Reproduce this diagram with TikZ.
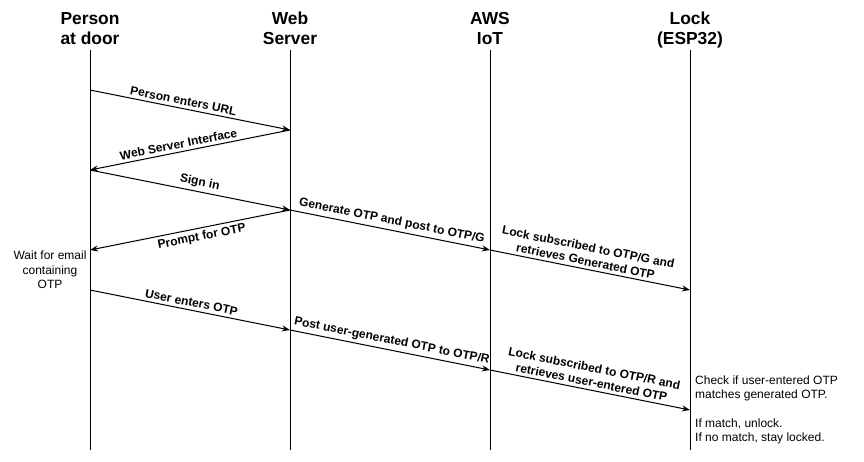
\documentclass[tikz,border=0pt]{standalone}
\usepackage{fontspec}
\setmainfont{Liberation Sans}
\usetikzlibrary{arrows.meta}

\tikzset{
  lifeline/.style={line width=1pt},
  msg/.style={line width=1pt,-{Stealth[length=8pt,width=6pt]}},
  lbl/.style={sloped,font=\bfseries\fontsize{12}{14.4}\selectfont,align=center,inner sep=3pt},
  head/.style={font=\bfseries\fontsize{17.4}{20}\selectfont,align=center,anchor=north,inner sep=0pt},
  note/.style={font=\fontsize{12}{14.4}\selectfont,inner sep=0pt}
}

\begin{document}
\begin{tikzpicture}[x=1pt,y=-1pt]
  \useasboundingbox (0,0) rectangle (864,462);
  % actors
  \node[head] (person) at (90,12) {Person\\at door};
  \node[head] (web) at (290,12) {Web\\Server};
  \node[head] (aws) at (490,12) {AWS\\IoT};
  \node[head] (lock) at (690,12) {Lock\\(ESP32)};
  % lifelines
  \foreach \x/\n in {90/p,290/w,490/a,690/l}{
    \coordinate (\n top) at (\x,50);
    \coordinate (\n bot) at (\x,450);
    \draw[lifeline] (\n top) -- (\n bot);
  }
  % message points
  \coordinate (p1) at (90,90);
  \coordinate (w1) at (290,130);
  \coordinate (p2) at (90,170);
  \coordinate (w2) at (290,210);
  \coordinate (p3) at (90,250);
  \coordinate (a1) at (490,250);
  \coordinate (l1) at (690,290);
  \coordinate (p4) at (90,290);
  \coordinate (w3) at (290,330);
  \coordinate (a2) at (490,370);
  \coordinate (l2) at (690,410);
  % messages
  \draw[msg] (p1) -- node[lbl,above,pos=0.46] {Person enters URL} (w1);
  \draw[msg] (w1) -- node[lbl,above,pos=0.55] {Web Server Interface} (p2);
  \draw[msg] (p2) -- node[lbl,above,pos=0.54] {Sign in} (w2);
  \draw[msg] (w2) -- node[lbl,below,pos=0.45] {Prompt for OTP} (p3);
  \draw[msg] (w2) -- node[lbl,above] {Generate OTP and post to OTP/G} (a1);
  \draw[msg] (a1) -- node[lbl,above,pos=0.47] {Lock subscribed to OTP/G and\\retrieves Generated OTP} (l1);
  \draw[msg] (p4) -- node[lbl,above] {User enters OTP} (w3);
  \draw[msg] (w3) -- node[lbl,above] {Post user-generated OTP to OTP/R} (a2);
  \draw[msg] (a2) -- node[lbl,above] {Lock subscribed to OTP/R and\\retrieves user-entered OTP} (l2);
  % notes
  \node[note,align=center] (wait) at (50,270) {Wait for email\\containing\\OTP};
  \node[note,align=left,anchor=west] (check) at (695,410) {Check if user-entered OTP\\matches generated OTP.\\[14.4pt]If match, unlock.\\If no match, stay locked.};
\end{tikzpicture}
\end{document}
